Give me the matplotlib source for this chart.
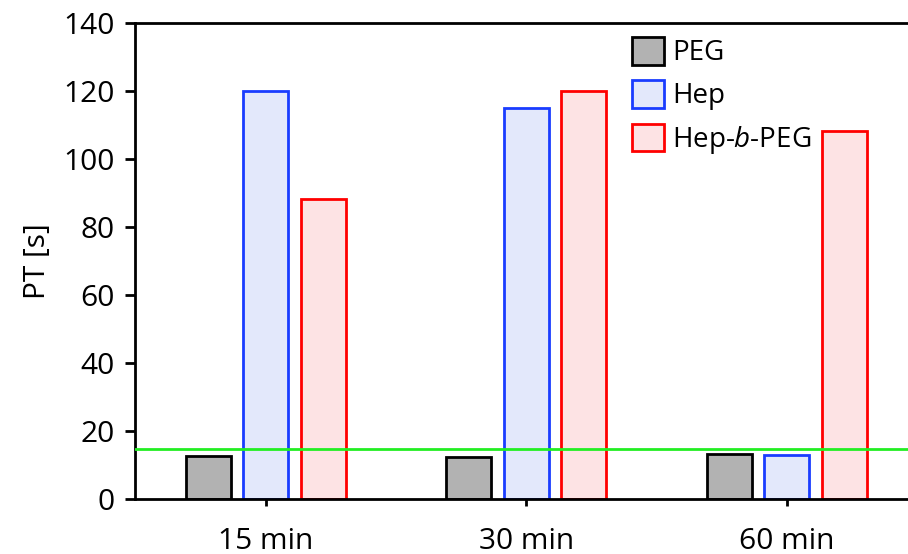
import matplotlib
matplotlib.use("Agg")
import matplotlib.pyplot as plt
import numpy as np

categories = ["15 min", "30 min", "60 min"]
series_names = ["PEG", "Hep", "Hep-$\\it{b}$-PEG"]
peg = [12.7, 12.4, 13.2]
hep = [120.0, 115.1, 12.9]
hep_b_peg = [88.3, 120.0, 108.3]
threshold = 14.7
y_ticks = [0, 20, 40, 60, 80, 100, 120, 140]

plt.rcParams['font.family'] = ['Open Sans', 'DejaVu Sans']
plt.rcParams['mathtext.fontset'] = 'custom'
plt.rcParams['mathtext.it'] = 'Open Sans:italic'
plt.rcParams['mathtext.rm'] = 'Open Sans'

fig = plt.figure(figsize=(9.08, 5.54), dpi=100)
ax = fig.add_axes([135/908, 1-499/554, 1-135/908, (499-23)/554])

x = np.arange(len(categories))
w = 0.173
off = 0.221
fills = ["#b2b2b2", "#e3e8fb", "#fde3e4"]
edges = ["#000000", "#1a3cff", "#ff0000"]
for i, (vals, name) in enumerate(zip([peg, hep, hep_b_peg], series_names)):
    ax.bar(x + (i-1)*off, vals, width=w, color=fills[i], edgecolor=edges[i],
           linewidth=2.0, label=name, zorder=2)

ax.axhline(threshold, color="#22ee22", linewidth=2.0, zorder=3)

ax.set_xlim((135-265.7)/260.5, (908-265.7)/260.5)
ax.set_ylim(0, 140)
ax.set_yticks(y_ticks)
ax.set_xticks(x)
ax.set_xticklabels(categories)
ax.tick_params(axis='y', direction='out', length=7.5, width=2.0, labelsize=21.5, pad=7)
ax.tick_params(axis='x', direction='out', length=5, width=2.0, labelsize=21.5, pad=15)
ax.set_ylabel("PT [s]", fontsize=21.5, labelpad=8)
for s in ['left', 'bottom', 'top']:
    ax.spines[s].set_linewidth(2.0)
ax.spines['right'].set_visible(False)

leg = ax.legend(loc='upper left', bbox_to_anchor=(632/908, 1-37/554),
                bbox_transform=fig.transFigure, frameon=False, fontsize=20,
                handlelength=1.15, handleheight=1.15, handletextpad=0.3,
                labelspacing=0.47, borderpad=0, borderaxespad=0)

fig.savefig("out.png", dpi=100)
